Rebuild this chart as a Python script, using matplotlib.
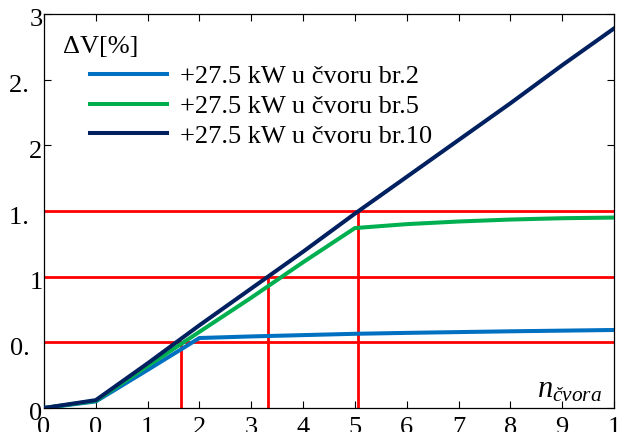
import matplotlib
matplotlib.use("Agg")
import matplotlib.pyplot as plt
from matplotlib.transforms import ScaledTranslation

plt.rcParams['font.family'] = ['Liberation Serif', 'DejaVu Serif']
plt.rcParams['mathtext.fontset'] = 'custom'
plt.rcParams['mathtext.it'] = 'Liberation Serif:italic'
plt.rcParams['mathtext.rm'] = 'Liberation Serif'

# Data
x_nodes = [0, 1, 2, 3, 4, 5, 6, 7, 8, 9, 10, 11]
x_tick_labels = ["0", "0", "1", "2", "3", "4", "5", "6", "7", "8", "9", "1"]
y_ticks = [0, 0.5, 1, 1.5, 2, 2.5, 3]
y_tick_labels = ["0", "0.\u2007", "1", "1.\u2007", "2", "2.\u2007", "3"]

legend_title = "ΔV[%]"
series_labels = ["+27.5 kW u čvoru br.2", "+27.5 kW u čvoru br.5", "+27.5 kW u čvoru br.10"]
dv_node2 = [0, 0.05, 0.29, 0.533, 0.545, 0.555, 0.565, 0.572, 0.578, 0.584, 0.589, 0.594]
dv_node5 = [0, 0.055, 0.32, 0.58, 0.84, 1.11, 1.37, 1.40, 1.42, 1.435, 1.445, 1.45]
dv_node10 = [0, 0.06, 0.34, 0.63, 0.91, 1.19, 1.48, 1.76, 2.04, 2.32, 2.61, 2.89]
series_colors = ["#0070C0", "#00B050", "#002060"]

ref_levels = [0.5, 1.0, 1.5]
ref_x = [2.64, 4.32, 6.06]

fig = plt.figure(figsize=(6.17, 4.32), dpi=100)
ax = fig.add_axes([44/617, 24/432, 570/617, 394/432])

for lvl in ref_levels:
    ax.axhline(lvl, color="#FF0000", lw=2.0, zorder=2)
for xv, lvl in zip(ref_x, ref_levels):
    ax.plot([xv, xv], [0, lvl], color="#FF0000", lw=2.0, zorder=2)

handles = []
for ys, c, lab in zip([dv_node2, dv_node5, dv_node10], series_colors, series_labels):
    h, = ax.plot(x_nodes, ys, color=c, lw=2.9, label=lab, zorder=3, solid_joinstyle='miter')
    handles.append(h)

ax.set_xlim(0, 11)
ax.set_ylim(0, 3)
ax.set_xticks(x_nodes)
ax.set_xticklabels(x_tick_labels)
ax.set_yticks(y_ticks)
ax.set_yticklabels(y_tick_labels)
ax.tick_params(direction='in', length=5, width=0.8, labelsize=19, top=True, right=True, pad=1)
ax.tick_params(axis='x', pad=6.5)
for s in ax.spines.values():
    s.set_linewidth(0.9)

shift = ScaledTranslation(0, -4/100, fig.dpi_scale_trans)
for lbl in ax.get_yticklabels():
    lbl.set_transform(lbl.get_transform() + shift)

leg = ax.legend(handles=handles, loc='upper left', bbox_to_anchor=(46/570, 1 - 51/394),
                frameon=False, fontsize=19,
                handlelength=2.9, handletextpad=0.5, labelspacing=0.23,
                borderpad=0.0, borderaxespad=0)

ax.text(19/570, 1 - 33/394, legend_title, transform=ax.transAxes, fontsize=19,
        ha='left', va='center')

ax.text(0.979, 0.008, r"$n_{\mathit{čvora}}$", transform=ax.transAxes, fontsize=22,
        ha='right', va='bottom')

fig.savefig("out.png", dpi=100)
